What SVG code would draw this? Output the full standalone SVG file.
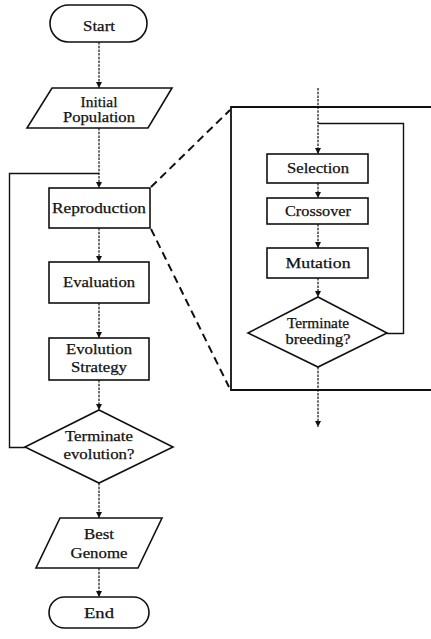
<svg xmlns="http://www.w3.org/2000/svg" width="431" height="639" viewBox="0 0 431 639">
<style>
.shape{fill:#fff;stroke:#111;stroke-width:1.6}
.conn{fill:none;stroke:#111;stroke-width:1.2;stroke-dasharray:2.5 1.2}
.loop{fill:none;stroke:#111;stroke-width:1.4}
.zoom{fill:none;stroke:#111;stroke-width:2;stroke-dasharray:8 5}
.frame{fill:none;stroke:#111;stroke-width:1.8}
text{font-family:"Liberation Serif","Times New Roman",serif;font-size:15px;fill:#111;stroke:#111;stroke-width:0.25;text-anchor:middle}
</style>
<defs>
<marker id="arr" viewBox="0 0 10 10" refX="10" refY="5" markerWidth="6" markerHeight="6" markerUnits="userSpaceOnUse" orient="auto">
<path d="M0,0 L10,5 L0,10 Z" fill="#111"/>
</marker>
</defs>
<rect x="0" y="0" width="431" height="639" fill="#fff"/>

<g id="connectors">
<line class="conn" x1="99" y1="42" x2="99" y2="88" marker-end="url(#arr)"/>
<line class="conn" x1="99" y1="128" x2="99" y2="188" marker-end="url(#arr)"/>
<line class="conn" x1="99" y1="228" x2="99" y2="262" marker-end="url(#arr)"/>
<line class="conn" x1="99" y1="303" x2="99" y2="338" marker-end="url(#arr)"/>
<line class="conn" x1="99" y1="380" x2="99" y2="410" marker-end="url(#arr)"/>
<line class="conn" x1="99" y1="483" x2="99" y2="518" marker-end="url(#arr)"/>
<line class="conn" x1="99" y1="568" x2="99" y2="597" marker-end="url(#arr)"/>
<polyline class="loop" points="25,447.5 9.5,447.5 9.5,173.5 99,173.5"/>
<line class="conn" x1="318" y1="88" x2="318" y2="154" marker-end="url(#arr)"/>
<line class="conn" x1="318" y1="183" x2="318" y2="198" marker-end="url(#arr)"/>
<line class="conn" x1="318" y1="224" x2="318" y2="248" marker-end="url(#arr)"/>
<line class="conn" x1="318" y1="278" x2="318" y2="297" marker-end="url(#arr)"/>
<line class="conn" x1="318" y1="367" x2="318" y2="427" marker-end="url(#arr)"/>
<polyline class="loop" points="387,333.5 403.5,333.5 403.5,123.5 318,123.5"/>
<line class="zoom" x1="151" y1="187" x2="230" y2="110"/>
<line class="zoom" x1="151" y1="229" x2="229" y2="387"/>
</g>

<g id="detail-frame">
<polyline class="frame" points="431,107 231,107 231,390 431,390"/>
</g>

<g id="start">
<rect class="shape" x="50" y="5" width="97" height="37" rx="18.5"/>
<text x="99" y="31" textLength="32" lengthAdjust="spacingAndGlyphs">Start</text>
</g>
<g id="initial-population">
<polygon class="shape" points="52,88 172,88 148,128 27,128"/>
<text x="99" y="107" textLength="37" lengthAdjust="spacingAndGlyphs">Initial</text>
<text x="99" y="122" textLength="72" lengthAdjust="spacingAndGlyphs">Population</text>
</g>
<g id="reproduction">
<rect class="shape" x="49" y="188" width="101" height="40"/>
<text x="99" y="213" textLength="94" lengthAdjust="spacingAndGlyphs">Reproduction</text>
</g>
<g id="evaluation">
<rect class="shape" x="49" y="262" width="100" height="41"/>
<text x="99" y="287" textLength="72" lengthAdjust="spacingAndGlyphs">Evaluation</text>
</g>
<g id="evolution-strategy">
<rect class="shape" x="49" y="338" width="100" height="42"/>
<text x="99" y="354" textLength="66" lengthAdjust="spacingAndGlyphs">Evolution</text>
<text x="99" y="372" textLength="56" lengthAdjust="spacingAndGlyphs">Strategy</text>
</g>
<g id="terminate-evolution">
<polygon class="shape" points="99,410 173,447 99,483 25,447"/>
<text x="99" y="441" textLength="68" lengthAdjust="spacingAndGlyphs">Terminate</text>
<text x="99" y="459" textLength="71" lengthAdjust="spacingAndGlyphs">evolution?</text>
</g>
<g id="best-genome">
<polygon class="shape" points="60,518 162,518 138,568 36,568"/>
<text x="99" y="539" textLength="30" lengthAdjust="spacingAndGlyphs">Best</text>
<text x="99" y="558" textLength="57" lengthAdjust="spacingAndGlyphs">Genome</text>
</g>
<g id="end">
<rect class="shape" x="49" y="597" width="100" height="31" rx="15.5"/>
<text x="99" y="618" textLength="30" lengthAdjust="spacingAndGlyphs">End</text>
</g>

<g id="selection">
<rect class="shape" x="267" y="154" width="101" height="29"/>
<text x="318" y="173" textLength="62" lengthAdjust="spacingAndGlyphs">Selection</text>
</g>
<g id="crossover">
<rect class="shape" x="267" y="198" width="101" height="26"/>
<text x="318" y="216" textLength="66" lengthAdjust="spacingAndGlyphs">Crossover</text>
</g>
<g id="mutation">
<rect class="shape" x="267" y="248" width="101" height="30"/>
<text x="318" y="268" textLength="65" lengthAdjust="spacingAndGlyphs">Mutation</text>
</g>
<g id="terminate-breeding">
<polygon class="shape" points="318,297 387,333 318,367 248,333"/>
<text x="318" y="328" textLength="62" lengthAdjust="spacingAndGlyphs">Terminate</text>
<text x="318" y="344" textLength="65" lengthAdjust="spacingAndGlyphs">breeding?</text>
</g>
</svg>
